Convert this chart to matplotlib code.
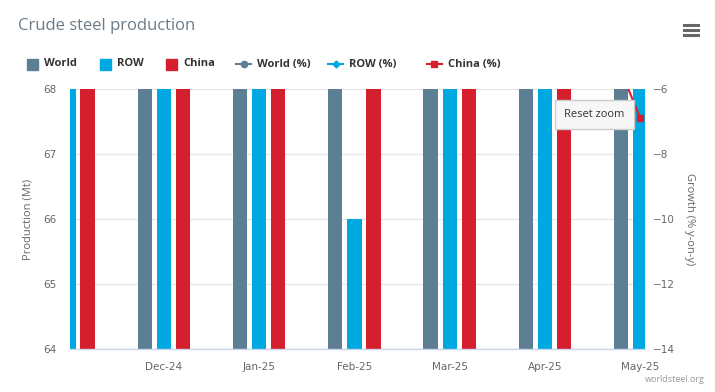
import matplotlib.pyplot as plt
from matplotlib.patches import Rectangle
from matplotlib.lines import Line2D
import numpy as np

# Data (Mt and % y-on-y)
months = ['Nov-24', 'Dec-24', 'Jan-25', 'Feb-25', 'Mar-25', 'Apr-25', 'May-25']
world = [151.0, 144.5, 151.4, 144.2, 166.1, 155.7, 158.8]
row = [72.6, 70.5, 69.5, 66.0, 73.3, 69.7, 72.2]
china = [78.4, 74.0, 81.9, 78.2, 92.8, 86.0, 86.6]
world_pct = [0.2, 4.8, 0.3, -3.4, 1.1, -0.3, -3.8]
row_pct = [-2.1, -1.6, 2.6, -5.0, -2.8, -1.0, 0.5]
china_pct = [2.5, 11.8, -1.5, -1.5, 4.6, 0.3, -6.9]

c_world = '#5d7f94'
c_row = '#00a8e1'
c_china = '#d51f2e'
grey = '#666666'

W, H = 715, 392
fig = plt.figure(figsize=(W / 100, H / 100), dpi=100)

def fx(px):
    return px / W

def fy(py):
    return 1 - py / H

# plot area in pixels: x 70..645, y 89..349
ax = fig.add_axes([fx(70), fy(349), fx(645) - fx(70), fy(89) - fy(349)])
ax2 = ax.twinx()

x = np.arange(len(months))
bw = 0.15
off = 0.2
ax.bar(x - off, world, bw, color=c_world, zorder=2)
ax.bar(x, row, bw, color=c_row, zorder=2)
ax.bar(x + off, china, bw, color=c_china, zorder=2)

ax.set_xlim(0.015, 6.05)
ax.set_ylim(64, 68)
ax.set_yticks([64, 65, 66, 67, 68])
ax.grid(axis='y', color='#e6e6e6', linewidth=1, zorder=0)
ax.set_axisbelow(True)
# first month sits just left of the zoomed window, so no label for it
ax.set_xticks(x[1:])
ax.set_xticklabels(months[1:])
ax.tick_params(axis='x', length=0, pad=9, labelsize=7.5, colors=grey)
ax.tick_params(axis='y', length=0, pad=10, labelsize=7.5, colors=grey)
ax.set_ylabel('Production (Mt)', color=grey, fontsize=8, family='Open Sans', labelpad=7)

ax2.plot(x, world_pct, color=c_world, marker='o', markersize=5, linewidth=1.5, zorder=3)
ax2.plot(x, row_pct, color=c_row, marker='D', markersize=4, linewidth=1.5, zorder=3)
ax2.plot(x, china_pct, color=c_china, marker='s', markersize=5, linewidth=1.5, zorder=3)
ax2.set_ylim(-14, -6)
ax2.set_yticks([-14, -12, -10, -8, -6])
ax2.tick_params(axis='y', length=0, pad=6, labelsize=7.5, colors=grey)
ax2.set_ylabel('Growth (% y-on-y)', color=grey, fontsize=8, family='Open Sans',
               rotation=270, labelpad=14)

for a in (ax, ax2):
    for s in a.spines.values():
        s.set_visible(False)
ax.spines['bottom'].set_visible(True)
ax.spines['bottom'].set_color('#ccd6eb')
ax.spines['bottom'].set_linewidth(1)

# Title
fig.text(fx(18), fy(26), 'Crude steel production', fontsize=12, color='#6e7b85',
         family='Open Sans', va='center', ha='left')

# Legend (drawn by hand to match the layout)
legend_items = [('World', c_world, None, 27), ('ROW', c_row, None, 100),
                ('China', c_china, None, 166), ('World (%)', c_world, 'o', 236),
                ('ROW (%)', c_row, 'D', 328), ('China (%)', c_china, 's', 427)]
ly = 64
for name, col, mk, px in legend_items:
    if mk is None:
        fig.add_artist(Rectangle((fx(px), fy(ly + 6)), fx(11), 11 / H,
                                 transform=fig.transFigure, color=col))
        tx = px + 17
    else:
        fig.add_artist(Line2D([fx(px), fx(px + 15)], [fy(ly), fy(ly)], color=col,
                              linewidth=1.5, transform=fig.transFigure))
        fig.add_artist(Line2D([fx(px + 7.5)], [fy(ly)], color=col, marker=mk,
                              markersize=4.5 if mk != 'D' else 3.5,
                              transform=fig.transFigure))
        tx = px + 21
    fig.text(fx(tx), fy(ly), name, fontsize=8, fontweight='bold', color='#333333',
             family='Open Sans', va='center', ha='left')

# Menu icon
for yy in (25, 30, 35):
    fig.add_artist(Line2D([fx(684), fx(698)], [fy(yy), fy(yy)], color='#666666',
                          linewidth=2.2, transform=fig.transFigure))

# Reset zoom button
fig.add_artist(Rectangle((fx(555), fy(129)), fx(79), 29 / H, transform=fig.transFigure,
                         facecolor='#f7f7f7', edgecolor='#cccccc', linewidth=1, zorder=5))
fig.text(fx(594.5), fy(114.5), 'Reset zoom', fontsize=8, color='#333333',
         family='Open Sans', ha='center', va='center', zorder=6)

# Credit
fig.text(fx(705), fy(379), 'worldsteel.org', fontsize=6.5, color='#999999',
         family='Open Sans', ha='right', va='center')

fig.savefig('out.png', dpi=100, facecolor='white')
